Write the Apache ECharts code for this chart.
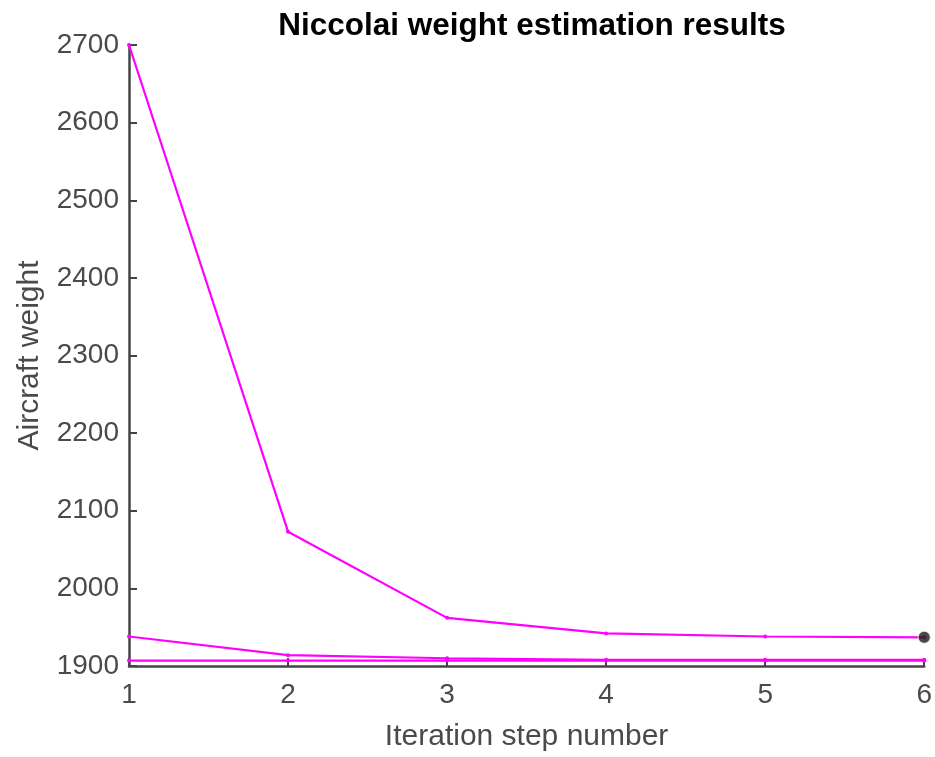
<!DOCTYPE html>
<html>
<head>
<meta charset="utf-8">
<script src="https://cdn.jsdelivr.net/npm/echarts@6/dist/echarts.min.js"></script>
<style>
  html, body { margin: 0; padding: 0; background: #ffffff; }
  #chart { width: 935px; height: 757px; }
</style>
</head>
<body>
<div id="chart"></div>
<script>
// Iteration steps and the aircraft weight estimate at each step
const steps = [1, 2, 3, 4, 5, 6];
const weightRun1 = [2700, 2073, 1962, 1942, 1938, 1937];
const weightRun2 = [1938, 1914, 1910, 1908, 1908, 1908];
const weightRun3 = [1907, 1907, 1907, 1907, 1907, 1907];
const finalPoint = [6, 1937];
const yTicks = [1900, 2000, 2100, 2200, 2300, 2400, 2500, 2600, 2700];

const FONT = '"Liberation Sans", Arial, Helvetica, sans-serif';
const AXIS_COLOR = '#444444';
const LABEL_COLOR = '#4a4a4a';

function pairs(ys) { return steps.map((x, i) => [x, ys[i]]); }

function runSeries(ys) {
  return {
    type: 'line',
    data: pairs(ys),
    symbol: 'circle',
    symbolSize: 4,
    lineStyle: { color: '#ff00ff', width: 2.2 },
    itemStyle: { color: '#ff00ff' },
    silent: true,
    z: 3
  };
}

const chart = echarts.init(document.getElementById('chart'), null, { renderer: 'canvas' });
chart.setOption({
  animation: false,
  backgroundColor: '#ffffff',
  title: {
    text: 'Niccolai weight estimation results',
    left: 527, textAlign: 'center', top: 5,
    textStyle: { fontFamily: FONT, fontSize: 31.5, fontWeight: 'bold', color: '#000000' }
  },
  grid: { left: 129, right: 10, top: 45, bottom: 86, containLabel: false },
  xAxis: {
    type: 'value', min: 1, max: 6, interval: 1,
    name: 'Iteration step number', nameLocation: 'middle', nameGap: 56,
    nameTextStyle: { fontFamily: FONT, fontSize: 30, color: LABEL_COLOR },
    axisLine: { show: true, onZero: false, lineStyle: { color: AXIS_COLOR, width: 2.5 } },
    axisTick: { show: true, inside: true, length: 8, lineStyle: { color: AXIS_COLOR, width: 2 } },
    axisLabel: { fontFamily: FONT, fontSize: 28, color: LABEL_COLOR, margin: 15 },
    splitLine: { show: false }
  },
  yAxis: {
    type: 'value', min: 1900, max: 2700, interval: 100,
    name: 'Aircraft weight', nameLocation: 'middle', nameGap: 84, nameRotate: 90,
    nameTextStyle: { fontFamily: FONT, fontSize: 30, color: LABEL_COLOR },
    axisLine: { show: true, onZero: false, lineStyle: { color: AXIS_COLOR, width: 2.5 } },
    axisTick: { show: true, inside: true, length: 8, lineStyle: { color: AXIS_COLOR, width: 2 } },
    axisLabel: {
      fontFamily: FONT, fontSize: 28, color: LABEL_COLOR, margin: 10,
      formatter: v => (yTicks.indexOf(v) >= 0 ? String(v) : '')
    },
    splitLine: { show: false }
  },
  series: [
    runSeries(weightRun3),
    runSeries(weightRun2),
    runSeries(weightRun1),
    {
      type: 'scatter',
      data: [finalPoint],
      symbol: 'circle',
      symbolSize: 12,
      itemStyle: { color: '#1a1a1a', borderColor: '#f5f0c0', borderWidth: 1 },
      silent: true,
      z: 5
    }
  ]
});
</script>
</body>
</html>
